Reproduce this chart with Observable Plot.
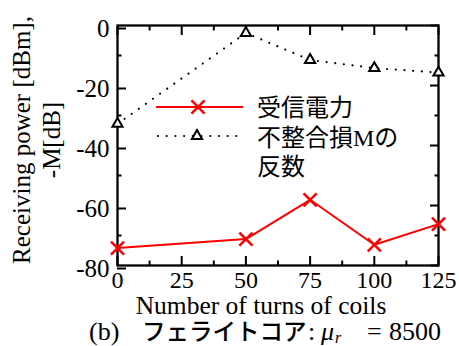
<!DOCTYPE html>
<html><head><meta charset="utf-8">
<script src="https://cdn.jsdelivr.net/npm/d3@7"></script>
<script src="https://cdn.jsdelivr.net/npm/@observablehq/plot@0.6"></script>
<style>body{margin:0;background:#fff} svg{display:block}</style>
</head><body><div id="chart"></div>
<script>
const turns = [0, 50, 75, 100, 125];
const receivingPower = [-74.2, -71.2, -58.1, -73.1, -66.2];
const mismatchNeg = [-32.8, -2.5, -11.5, -14.2, -15.7];
const xTicks = [0, 25, 50, 75, 100, 125];
const xMinorTicks = [12.5, 37.5, 62.5, 87.5, 112.5];
const yTicks = [0, -20, -40, -60, -80];
const yMinorTicks = [-10, -30, -50, -70];
const legendLabels = ["受信電力", "不整合損Mの", "反数"];
const yLabelLines = ["Receiving power [dBm],", "-M[dB]"];
const xLabel = "Number of turns of coils";

const power = turns.map((t, i) => ({turns: t, value: receivingPower[i]}));
const mism = turns.map((t, i) => ({turns: t, value: mismatchNeg[i]}));
const serif = "'Liberation Serif','Times New Roman',serif";
const cjk = "'Liberation Serif','Noto Sans CJK JP',sans-serif";
const RED = "#ff0000";
const none = () => "";
const fmt = d => String(d);

const plot = Plot.plot({
  width: 459, height: 346,
  marginLeft: 117, marginRight: 21, marginTop: 25, marginBottom: 81,
  style: {fontFamily: serif, fontSize: "25px", color: "#000", background: "#fff", overflow: "visible"},
  x: {domain: [0, 125]},
  y: {domain: [-80, 0]},
  marks: [
    Plot.axisX(xTicks, {anchor: "bottom", tickSize: -9, tickPadding: 14, tickFormat: fmt, strokeWidth: 2, label: null, fontSize: 24}),
    Plot.axisX(xMinorTicks, {anchor: "bottom", tickSize: -4.5, tickFormat: none, strokeWidth: 2, label: null}),
    Plot.axisX(xTicks, {anchor: "top", tickSize: -9, tickFormat: none, strokeWidth: 2, label: null}),
    Plot.axisX(xMinorTicks, {anchor: "top", tickSize: -4.5, tickFormat: none, strokeWidth: 2, label: null}),
    Plot.axisY(yTicks, {anchor: "left", tickSize: -9, tickPadding: 17, tickFormat: fmt, strokeWidth: 2, label: null, fontSize: 25, dy: 3}),
    Plot.axisY(yMinorTicks, {anchor: "left", tickSize: -4.5, tickFormat: none, strokeWidth: 2, label: null}),
    Plot.axisY(yTicks, {anchor: "right", tickSize: -9, tickFormat: none, strokeWidth: 2, label: null}),
    Plot.axisY(yMinorTicks, {anchor: "right", tickSize: -4.5, tickFormat: none, strokeWidth: 2, label: null}),
    Plot.frame({strokeWidth: 2.3}),
    Plot.line(mism, {x: "turns", y: "value", stroke: "#000", strokeWidth: 2.2, strokeDasharray: "0,8.7", strokeLinecap: "round"}),
    Plot.line(power, {x: "turns", y: "value", stroke: RED, strokeWidth: 2}),
    Plot.dot(mism, {x: "turns", y: "value", symbol: "triangle", r: 3.8, fill: "#fff", stroke: "#000", strokeWidth: 2}),
    Plot.dot(power, {x: "turns", y: "value", symbol: "times", r: 6, stroke: RED, strokeWidth: 2.5})
  ]
});
document.getElementById("chart").appendChild(plot);

const svg = d3.select(plot);
svg.selectAll('g[aria-label="y-axis tick label"] text').style("font-family", serif).style("font-size", "25px").style("font-variant", "normal");
svg.selectAll('g[aria-label="x-axis tick label"] text').style("font-family", serif).style("font-size", "24px").style("font-variant", "normal");

// legend
const lg = svg.append("g").attr("text-anchor", "start");
lg.append("line").attr("x1", 156).attr("x2", 243).attr("y1", 107).attr("y2", 107)
  .attr("stroke", RED).attr("stroke-width", 2);
lg.append("path").attr("d", d3.symbol(d3.symbolTimes, Math.PI * 36)())
  .attr("transform", "translate(198,107)").attr("stroke", RED).attr("stroke-width", 2.5).attr("fill", "none");
lg.append("line").attr("x1", 158).attr("x2", 243).attr("y1", 136).attr("y2", 136)
  .attr("stroke", "#000").attr("stroke-width", 2.2).attr("stroke-dasharray", "0,8.7").attr("stroke-linecap", "round");
lg.append("path").attr("d", d3.symbol(d3.symbolTriangle, Math.PI * 3.8 * 3.8)())
  .attr("transform", "translate(197,136)").attr("stroke", "#000").attr("stroke-width", 2).attr("fill", "#fff");
const legendY = [116, 145.5, 175];
legendLabels.forEach((t, i) => {
  lg.append("text").attr("x", 257).attr("y", legendY[i]).style("font-family", cjk)
    .style("font-size", "24px").attr("fill", "#000").text(t);
});

// y label
[30, 60].forEach((x, i) => {
  svg.append("text").attr("transform", `translate(${x},140) rotate(-90)`)
    .attr("text-anchor", "middle").style("font-family", serif).style("font-size", "25px")
    .attr("fill", "#000").text(yLabelLines[i]);
});
// x label
svg.append("text").attr("x", 261).attr("y", 314).attr("text-anchor", "middle")
  .style("font-family", serif).style("font-size", "25.5px").attr("fill", "#000").text(xLabel);

// caption
const cap = svg.append("text").attr("y", 340).attr("text-anchor", "start").attr("fill", "#000")
  .style("font-family", serif).style("font-size", "26px");
cap.append("tspan").attr("x", 89).text("(b)");
cap.append("tspan").attr("x", 142).style("font-family", "'Noto Sans CJK JP',sans-serif").style("font-size", "23.5px").style("font-weight", 500).text("フェライトコア");
cap.append("tspan").attr("x", 308).text(":");
cap.append("tspan").attr("x", 321).style("font-style", "italic").text("μ");
cap.append("tspan").attr("x", 335).attr("dy", 3).style("font-style", "italic").style("font-size", "16px").text("r");
cap.append("tspan").attr("x", 367).attr("dy", -3).text("=");
cap.append("tspan").attr("x", 389).text("8500");
</script>
</body></html>
